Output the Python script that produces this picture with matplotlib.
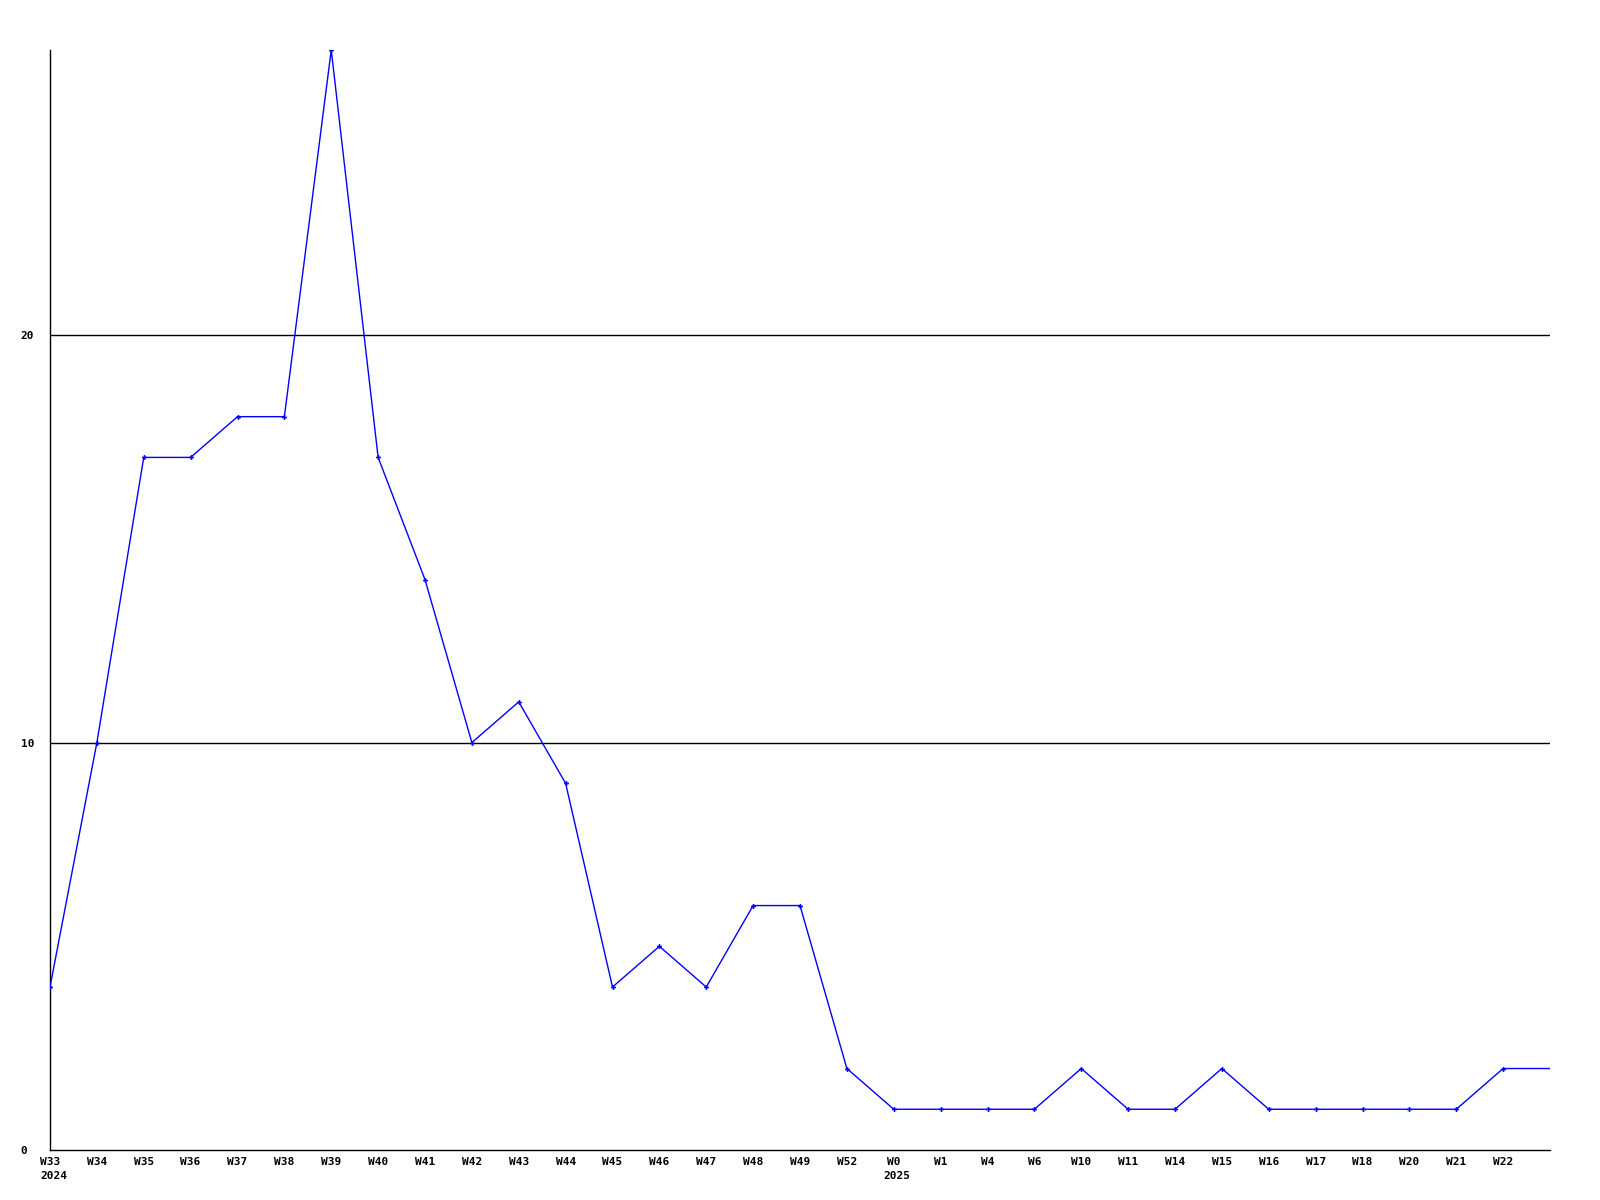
import numpy as np
import matplotlib.pyplot as plt

weeks = ["W33", "W34", "W35", "W36", "W37", "W38", "W39", "W40", "W41", "W42",
         "W43", "W44", "W45", "W46", "W47", "W48", "W49", "W52", "W0", "W1",
         "W4", "W6", "W10", "W11", "W14", "W15", "W16", "W17", "W18", "W20",
         "W21", "W22"]
counts = [4, 10, 17, 17, 18, 18, 27, 17, 14, 10,
          11, 9, 4, 5, 4, 6, 6, 2, 1, 1,
          1, 1, 2, 1, 1, 2, 1, 1, 1, 1,
          1, 2]
years = {"W33": "2024", "W0": "2025"}
y_ticks = [0, 10, 20]

x = np.arange(len(weeks))

fig = plt.figure(figsize=(16, 12), dpi=100)
ax = fig.add_axes([50/1600, 50/1200, 1500/1600, 1100/1200])

font = dict(family="DejaVu Sans Mono", weight="bold", size=8)

# gridlines
for yv in y_ticks[1:]:
    ax.axhline(yv, color="black", linewidth=1, zorder=1)

# line continues flat to the right edge after the last week
x_line = np.append(x, len(weeks))
y_line = counts + [counts[-1]]
ax.plot(x_line, y_line, color="#0000ff", linewidth=1, zorder=3)
ax.plot(x, counts, linestyle="none", marker="P", markersize=3.5,
        color="#0000ff", markeredgewidth=0, zorder=4)

ax.set_xlim(0, len(weeks))
ax.set_ylim(0, 27)

for s in ["top", "right"]:
    ax.spines[s].set_visible(False)
ax.spines["left"].set_linewidth(1)
ax.spines["bottom"].set_linewidth(1)

ax.set_xticks(x)
ax.set_xticklabels(weeks, fontdict=font)
ax.tick_params(axis="x", length=0, pad=5)

ax.set_yticks(y_ticks)
ax.set_yticklabels([str(v) for v in y_ticks], fontdict=font, ha="left")
ax.tick_params(axis="y", length=0, pad=21)

for i, w in enumerate(weeks):
    if w in years:
        ax.annotate(years[w], xy=(x[i], 0), xycoords=("data", "axes fraction"),
                    xytext=(-10, -26), textcoords="offset pixels",
                    ha="left", va="center", **font)

fig.savefig("out.png", dpi=100)
